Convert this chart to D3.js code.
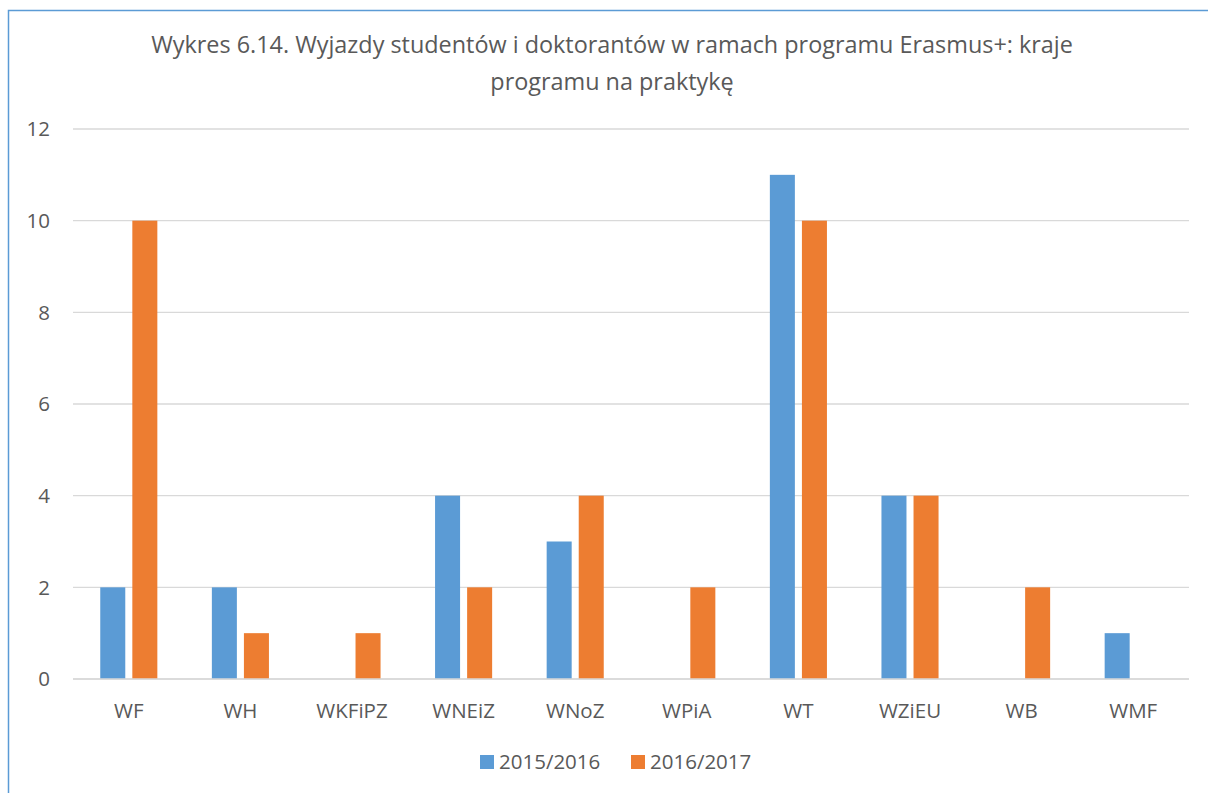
<!DOCTYPE html>
<html><head><meta charset="utf-8">
<script src="https://cdn.jsdelivr.net/npm/d3@7"></script>
<style>body{margin:0;background:#fff;}svg{display:block;font-family:"Open Sans","Liberation Sans",sans-serif;}</style>
</head><body>
<svg id="c" width="1208" height="793"></svg>
<script>
const categories = ["WF","WH","WKFiPZ","WNEiZ","WNoZ","WPiA","WT","WZiEU","WB","WMF"];
const seriesNames = ["2015/2016","2016/2017"];
const values2015 = [2,2,0,4,3,0,11,4,0,1];
const values2016 = [10,1,1,2,4,2,10,4,2,0];
const yTicks = [0,2,4,6,8,10,12];
const titleLines = ["Wykres 6.14. Wyjazdy studentów i doktorantów w ramach programu Erasmus+: kraje","programu na praktykę"];
const colors = ["#5b9bd5","#ed7d31"];

const svg = d3.select("#c");
const textColor = "#595959";
svg.append("rect").attr("x",8.5).attr("y",10.5).attr("width",1300).attr("height",900)
  .attr("fill","none").attr("stroke","#5b9bd5").attr("stroke-width",1.5);

const x = d3.scaleBand().domain(categories).range([73,1189]);
const y = d3.scaleLinear().domain([0,12]).range([679,129]);
const xs = d3.scaleBand().domain(seriesNames).range([0, x.bandwidth()]).paddingInner(0.22).paddingOuter(0.85);

svg.append("g").selectAll("line").data(yTicks).join("line")
  .attr("x1",73).attr("x2",1189).attr("y1",d=>y(d)).attr("y2",d=>y(d))
  .attr("stroke","#d9d9d9").attr("stroke-width",1.3);

svg.append("g").selectAll("text").data(yTicks).join("text")
  .attr("x",50).attr("y",d=>y(d)).attr("dy","0.35em").attr("text-anchor","end")
  .attr("font-size",20.5).attr("fill",textColor).text(d=>d);

const data = [values2015, values2016];
seriesNames.forEach((s,i)=>{
  svg.append("g").selectAll("rect").data(categories).join("rect")
    .attr("x",c=>x(c)+xs(s)).attr("width",xs.bandwidth())
    .attr("y",(c,j)=>y(data[i][j])).attr("height",(c,j)=>y(0)-y(data[i][j]))
    .attr("fill",colors[i]);
});
svg.append("line").attr("x1",73).attr("x2",1189).attr("y1",y(0)).attr("y2",y(0))
  .attr("stroke","#d9d9d9").attr("stroke-width",1.3);

svg.append("g").selectAll("text").data(categories).join("text")
  .attr("x",c=>x(c)+x.bandwidth()/2).attr("y",711).attr("dy","0.35em").attr("text-anchor","middle")
  .attr("font-size",20.5).attr("fill",textColor).text(d=>d);

svg.append("g").selectAll("text").data(titleLines).join("text")
  .attr("x",612).attr("y",(d,i)=>53+i*37).attr("text-anchor","middle")
  .attr("font-size",23.4).attr("fill",textColor).text(d=>d);

const leg = [{x:480},{x:631}];
seriesNames.forEach((s,i)=>{
  svg.append("rect").attr("x",leg[i].x).attr("y",755).attr("width",14).attr("height",14).attr("fill",colors[i]);
  svg.append("text").attr("x",leg[i].x+19).attr("y",762).attr("dy","0.35em")
    .attr("font-size",20.5).attr("fill",textColor).text(s);
});
</script>
</body></html>
